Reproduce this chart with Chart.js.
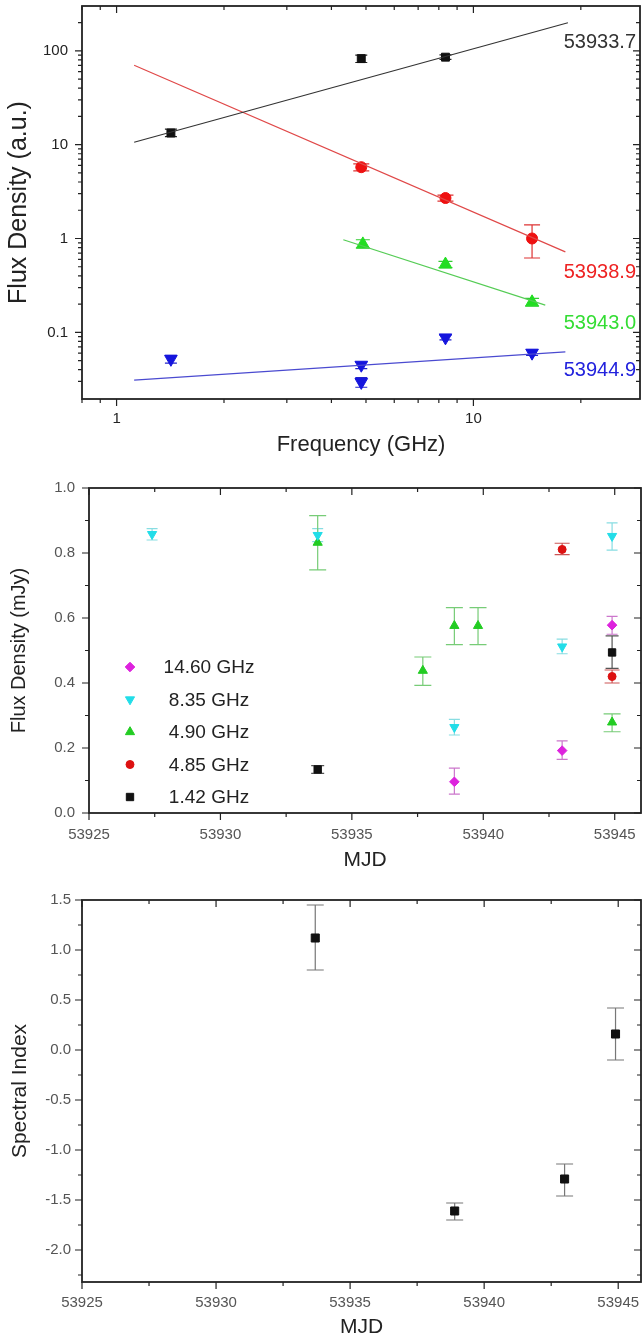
<!DOCTYPE html>
<html>
<head>
<meta charset="utf-8">
<script src="https://cdn.jsdelivr.net/npm/chart.js@4.4.0/dist/chart.umd.min.js"></script>
<style>
  html, body { margin: 0; padding: 0; background: #fff; }
  body { width: 643px; height: 1344px; position: relative; overflow: hidden; }
  canvas { position: absolute; left: 0; }
</style>
</head>
<body>
<canvas id="c1" width="643" height="460" style="top:0px"></canvas>
<canvas id="c2" width="643" height="410" style="top:470px"></canvas>
<canvas id="c3" width="643" height="464" style="top:880px"></canvas>
<script>
// ================= Panel 1: spectra (log-log) =================
const p1Epochs = ['53933.7', '53938.9', '53943.0', '53944.9'];
const p1EpochLabelY = [122, 0.437, 0.125, 0.0395];

const p1FreqA = [1.42, 4.85, 8.35];
const p1FluxA = [13.3, 82.5, 85.5];
const p1LoA   = [12.2, 75, 81];
const p1HiA   = [14.6, 90, 90.5];

const p1FreqB = [4.85, 8.35, 14.6];
const p1FluxB = [5.75, 2.7, 1.0];
const p1LoB   = [5.25, 2.5, 0.62];
const p1HiB   = [6.25, 2.9, 1.40];

const p1FreqC = [4.9, 8.35, 14.6];
const p1FluxC = [0.87, 0.53, 0.21];
const p1LoC   = [0.79, 0.49, 0.19];
const p1HiC   = [0.97, 0.57, 0.23];

const p1FreqD = [1.42, 4.85, 4.85, 8.35, 14.6];
const p1FluxD = [0.052, 0.045, 0.0295, 0.088, 0.0605];
const p1LoD   = [0.047, 0.041, 0.026, 0.083, 0.057];
const p1HiD   = [0.057, 0.048, 0.033, 0.093, 0.065];

const p1FitXA = [1.12, 18.4];  const p1FitYA = [10.6, 199];
const p1FitXB = [1.12, 18.1];  const p1FitYB = [70, 0.72];
const p1FitXC = [4.32, 15.9];  const p1FitYC = [0.97, 0.195];
const p1FitXD = [1.12, 18.1];  const p1FitYD = [0.031, 0.062];

const p1XMajor = [1, 10];
const p1XMinor = [0.8, 0.9, 2, 3, 4, 5, 6, 7, 8, 9, 20];
const p1YMajor = [0.1, 1, 10, 100];
const p1YMinor = [0.03, 0.04, 0.05, 0.06, 0.07, 0.08, 0.09, 0.2, 0.3, 0.4, 0.5, 0.6, 0.7, 0.8, 0.9,
                  2, 3, 4, 5, 6, 7, 8, 9, 20, 30, 40, 50, 60, 70, 80, 90, 200];

// ================= Panel 2: light curves =================
const p2Labels = ['14.60 GHz', '8.35 GHz', '4.90 GHz', '4.85 GHz', '1.42 GHz'];

const p2MjdMag  = [53938.9, 53943.0, 53944.9];
const p2FluxMag = [0.096, 0.192, 0.578];
const p2LoMag   = [0.058, 0.165, 0.550];
const p2HiMag   = [0.138, 0.222, 0.605];

const p2MjdCyan  = [53927.4, 53933.7, 53938.9, 53943.0, 53944.9];
const p2FluxCyan = [0.858, 0.855, 0.264, 0.512, 0.852];
const p2LoCyan   = [0.840, 0.835, 0.240, 0.490, 0.809];
const p2HiCyan   = [0.875, 0.875, 0.288, 0.535, 0.893];

const p2MjdGreen  = [53933.7, 53937.7, 53938.9, 53939.8, 53944.9];
const p2FluxGreen = [0.832, 0.438, 0.576, 0.576, 0.279];
const p2LoGreen   = [0.748, 0.393, 0.518, 0.518, 0.250];
const p2HiGreen   = [0.915, 0.480, 0.632, 0.632, 0.305];

const p2MjdRed  = [53943.0, 53944.9];
const p2FluxRed = [0.811, 0.420];
const p2LoRed   = [0.795, 0.400];
const p2HiRed   = [0.830, 0.440];

const p2MjdBlack  = [53933.7, 53944.9];
const p2FluxBlack = [0.134, 0.494];
const p2LoBlack   = [0.122, 0.445];
const p2HiBlack   = [0.146, 0.545];

const p2XMajor = [53925, 53930, 53935, 53940, 53945];
const p2XMinor = [53927.5, 53932.5, 53937.5, 53942.5];
const p2YMajor = [0, 0.2, 0.4, 0.6, 0.8, 1.0];
const p2YMinor = [0.1, 0.3, 0.5, 0.7, 0.9];

// ================= Panel 3: spectral index =================
const p3Mjd   = [53933.7, 53938.9, 53943.0, 53944.9];
const p3Index = [1.12, -1.61, -1.29, 0.16];
const p3Lo    = [0.80, -1.70, -1.46, -0.10];
const p3Hi    = [1.45, -1.53, -1.14, 0.42];

const p3XMajor = [53925, 53930, 53935, 53940, 53945];
const p3XMinor = [53927.5, 53932.5, 53937.5, 53942.5];
const p3YMajor = [-2.0, -1.5, -1.0, -0.5, 0.0, 0.5, 1.0, 1.5];
const p3YMinor = [-2.25, -1.75, -1.25, -0.75, -0.25, 0.25, 0.75, 1.25];

// ================= helpers =================
const FONT = '"Liberation Sans", Arial, Helvetica, sans-serif';
const inList = (v, arr) => arr.some(a => Math.abs(a - v) < 1e-9 * Math.max(1, Math.abs(a)));
const pts = (xs, ys) => xs.map((x, i) => ({ x: x, y: ys[i] }));

const errPlugin = {
  id: 'errbars',
  beforeDatasetsDraw(chart) {
    const { ctx } = chart;
    const xs = chart.scales.x, ys = chart.scales.y;
    chart.data.datasets.forEach(ds => {
      if (!ds.errLo) return;
      ctx.save();
      ctx.strokeStyle = ds.errColor;
      ctx.lineWidth = ds.errWidth || 1;
      ds.data.forEach((p, j) => {
        const px = xs.getPixelForValue(p.x);
        const lo = ys.getPixelForValue(ds.errLo[j]);
        const hi = ys.getPixelForValue(ds.errHi[j]);
        const w = ds.capW / 2;
        ctx.beginPath();
        ctx.moveTo(px, lo); ctx.lineTo(px, hi);
        ctx.moveTo(px - w, lo); ctx.lineTo(px + w, lo);
        ctx.moveTo(px - w, hi); ctx.lineTo(px + w, hi);
        ctx.stroke();
      });
      ctx.restore();
    });
  }
};

const framePlugin = {
  id: 'frame',
  afterDraw(chart, args, o) {
    const { ctx, chartArea: a } = chart;
    const xs = chart.scales.x, ys = chart.scales.y;
    ctx.save();
    ctx.strokeStyle = o.color;
    ctx.lineWidth = 1.2;
    ctx.beginPath();
    xs.ticks.forEach(t => {
      const px = xs.getPixelForValue(t.value);
      if (px < a.left - 0.5 || px > a.right + 0.5) return;
      const L = inList(t.value, o.xMajor) ? o.major : o.minor;
      ctx.moveTo(px, a.bottom); ctx.lineTo(px, a.bottom + L);
      ctx.moveTo(px, a.top); ctx.lineTo(px, a.top + L);
    });
    ys.ticks.forEach(t => {
      const py = ys.getPixelForValue(t.value);
      if (py < a.top - 0.5 || py > a.bottom + 0.5) return;
      const L = inList(t.value, o.yMajor) ? o.major : o.minor;
      ctx.moveTo(a.left - L, py); ctx.lineTo(a.left, py);
      ctx.moveTo(a.right - L, py); ctx.lineTo(a.right, py);
    });
    ctx.stroke();
    ctx.lineWidth = o.width;
    ctx.strokeRect(a.left, a.top, a.right - a.left, a.bottom - a.top);
    ctx.restore();
  }
};

function zeroPad(s) { s.paddingLeft = 0; s.paddingRight = 0; s.paddingTop = 0; s.paddingBottom = 0; }

function xAxis(type, min, max, major, minor, fmt, height, pad, title, tcol, titleSize, titlePadBottom) {
  return {
    type: type, position: 'bottom', min: min, max: max,
    grid: { display: false, drawTicks: false },
    border: { display: false },
    afterBuildTicks: s => { s.ticks = major.concat(minor).sort((a, b) => a - b).map(v => ({ value: v })); },
    afterFit: s => { s.height = height; zeroPad(s); },
    ticks: {
      autoSkip: false, maxRotation: 0, minRotation: 0, padding: pad,
      color: tcol, font: { family: FONT, size: 15 },
      callback: v => inList(v, major) ? fmt(v) : ''
    },
    title: { display: true, text: title, color: '#222', font: { family: FONT, size: titleSize },
             padding: { top: 0, bottom: titlePadBottom } }
  };
}
function yAxis(type, min, max, major, minor, fmt, width, pad, title, tcol, titleSize, titlePadTop) {
  return {
    type: type, position: 'left', min: min, max: max,
    grid: { display: false, drawTicks: false },
    border: { display: false },
    afterBuildTicks: s => { s.ticks = major.concat(minor).sort((a, b) => a - b).map(v => ({ value: v })); },
    afterFit: s => { s.width = width; zeroPad(s); },
    ticks: {
      autoSkip: false, padding: pad,
      color: tcol, font: { family: FONT, size: 15 },
      callback: v => inList(v, major) ? fmt(v) : ''
    },
    title: { display: true, text: title, color: '#222', font: { family: FONT, size: titleSize },
             padding: { top: titlePadTop, bottom: 0 } }
  };
}
function baseOptions(padding, scales, frame) {
  return {
    responsive: false, animation: false, events: [],
    layout: { autoPadding: false, padding: padding },
    scales: scales,
    plugins: { legend: { display: false }, tooltip: { enabled: false }, frame: frame }
  };
}

// ================= Chart 1 =================
const epochColors = ['#333333', '#ee2222', '#33dd33', '#2222dd'];
const epochLabelPlugin = {
  id: 'epochLabels',
  afterDraw(chart) {
    const { ctx, chartArea: a } = chart;
    const ys = chart.scales.y;
    ctx.save();
    ctx.font = '20px ' + FONT;
    ctx.textAlign = 'right';
    ctx.textBaseline = 'middle';
    p1Epochs.forEach((t, i) => {
      ctx.fillStyle = epochColors[i];
      ctx.fillText(t, a.right - 4, ys.getPixelForValue(p1EpochLabelY[i]));
    });
    ctx.restore();
  }
};

function fitDs(xs, ys, color) {
  return { data: pts(xs, ys), showLine: true, borderColor: color, borderWidth: 1.2,
           pointRadius: 0, fill: false, tension: 0 };
}
function ptDs(xs, ys, lo, hi, color, style, radius, rot, errColor, capW) {
  return { data: pts(xs, ys), showLine: false, pointStyle: style, pointRadius: radius,
           pointRotation: rot, backgroundColor: color, borderColor: color, borderWidth: 1,
           errLo: lo, errHi: hi, errColor: errColor, capW: capW, errWidth: 1.2 };
}

new Chart(document.getElementById('c1'), {
  type: 'scatter',
  data: {
    datasets: [
      fitDs(p1FitXA, p1FitYA, '#333333'),
      fitDs(p1FitXB, p1FitYB, '#e04848'),
      fitDs(p1FitXC, p1FitYC, '#55cc55'),
      fitDs(p1FitXD, p1FitYD, '#4a4ad0'),
      ptDs(p1FreqA, p1FluxA, p1LoA, p1HiA, '#111111', 'rect', 5.6, 0, '#222222', 12),
      ptDs(p1FreqB, p1FluxB, p1LoB, p1HiB, '#ee1111', 'circle', 5.5, 0, '#dd3333', 16),
      ptDs(p1FreqC, p1FluxC, p1LoC, p1HiC, '#22dd22', 'triangle', 7.3, 0, '#33cc33', 14),
      ptDs(p1FreqD, p1FluxD, p1LoD, p1HiD, '#1515dd', 'triangle', 7.3, 180, '#2222cc', 12)
    ]
  },
  options: baseOptions({ top: 6, right: 3, left: 0, bottom: 0 }, {
    x: xAxis('logarithmic', 0.8, 29.3, p1XMajor, p1XMinor, v => String(v), 61, 11,
             'Frequency (GHz)', '#222', 22, 2),
    y: yAxis('logarithmic', 0.0195, 300, p1YMajor, p1YMinor, v => String(v), 82, 14,
             'Flux Density (a.u.)', '#222', 25, 4)
  }, { color: '#222', width: 1.8, major: 7, minor: 4,
       xMajor: p1XMajor, yMajor: p1YMajor }),
  plugins: [errPlugin, framePlugin, epochLabelPlugin]
});

// ================= Chart 2 =================
const legendPlugin = {
  id: 'sideLegend',
  afterDraw(chart) {
    const { ctx, chartArea: a } = chart;
    ctx.save();
    ctx.font = '19px ' + FONT;
    ctx.textAlign = 'center';
    ctx.textBaseline = 'middle';
    chart.data.datasets.forEach((ds, i) => {
      const y = a.top + 179 + i * 32.5;
      const x = a.left + 41;
      ctx.fillStyle = ds.backgroundColor;
      ctx.strokeStyle = ds.borderColor;
      Chart.helpers.drawPoint(ctx, { pointStyle: ds.pointStyle, radius: ds.pointRadius,
                                     rotation: ds.pointRotation, borderWidth: 1 }, x, y);
      ctx.fillStyle = '#222';
      ctx.fillText(ds.label, a.left + 120, y + 1);
    });
    ctx.restore();
  }
};

const p2Ds = [
  Object.assign(ptDs(p2MjdMag, p2FluxMag, p2LoMag, p2HiMag, '#dd22dd', 'rectRot', 4.8, 0, '#cc77cc', 11), { label: p2Labels[0] }),
  Object.assign(ptDs(p2MjdCyan, p2FluxCyan, p2LoCyan, p2HiCyan, '#22dde8', 'triangle', 5.3, 180, '#88dde2', 11), { label: p2Labels[1] }),
  Object.assign(ptDs(p2MjdGreen, p2FluxGreen, p2LoGreen, p2HiGreen, '#22cc22', 'triangle', 5.3, 0, '#77cc77', 17), { label: p2Labels[2] }),
  Object.assign(ptDs(p2MjdRed, p2FluxRed, p2LoRed, p2HiRed, '#dd1111', 'circle', 4, 0, '#cc5555', 15), { label: p2Labels[3] }),
  Object.assign(ptDs(p2MjdBlack, p2FluxBlack, p2LoBlack, p2HiBlack, '#111111', 'rect', 5.2, 0, '#555555', 13), { label: p2Labels[4] })
];

new Chart(document.getElementById('c2'), {
  type: 'scatter',
  data: { datasets: p2Ds },
  options: baseOptions({ top: 18, right: 2, left: 0, bottom: 0 }, {
    x: xAxis('linear', 53925, 53946, p2XMajor, p2XMinor, v => String(Math.round(v)), 67, 13,
             'MJD', '#555', 21, 7),
    y: yAxis('linear', 0, 1.0, p2YMajor, p2YMinor, v => v.toFixed(1), 89, 14,
             'Flux Density (mJy)', '#555', 20, 7.5)
  }, { color: '#222', width: 1.8, major: 7, minor: 4,
       xMajor: p2XMajor, yMajor: p2YMajor }),
  plugins: [errPlugin, framePlugin, legendPlugin]
});

// ================= Chart 3 =================
new Chart(document.getElementById('c3'), {
  type: 'scatter',
  data: {
    datasets: [
      ptDs(p3Mjd, p3Index, p3Lo, p3Hi, '#111111', 'rect', 5.7, 0, '#777777', 17)
    ]
  },
  options: baseOptions({ top: 20, right: 2, left: 0, bottom: 0 }, {
    x: xAxis('linear', 53925, 53945.85, p3XMajor, p3XMinor, v => String(Math.round(v)), 62, 12,
             'MJD', '#555', 21, 4),
    y: yAxis('linear', -2.32, 1.5, p3YMajor, p3YMinor, v => v.toFixed(1), 82, 11,
             'Spectral Index', '#555', 21, 8)
  }, { color: '#222', width: 1.8, major: 7, minor: 4,
       xMajor: p3XMajor, yMajor: p3YMajor }),
  plugins: [errPlugin, framePlugin]
});
</script>
</body>
</html>
